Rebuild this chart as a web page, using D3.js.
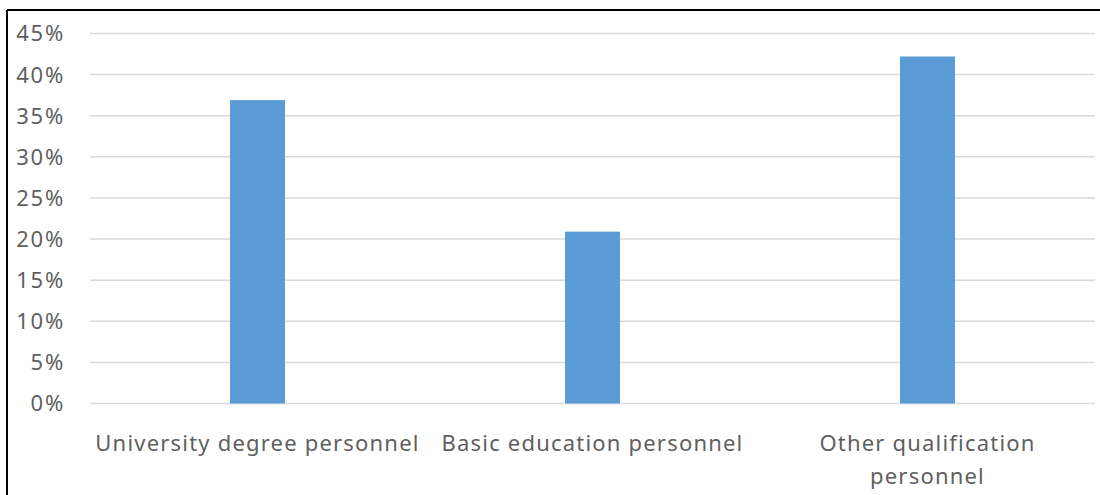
<!DOCTYPE html>
<meta charset="utf-8">
<style>
body { margin: 0; background: #fff; }
svg { display: block; }
.tick-label, .cat-label {
  font-family: "Noto Sans", "Open Sans", sans-serif;
  fill: #5f5f5f;
}
</style>
<body>
<svg width="1100" height="495"></svg>
<script src="https://d3js.org/d3.v7.min.js"></script>
<script>

// values (share of personnel, %)
var categories = ["University degree personnel", "Basic education personnel", "Other qualification personnel"];
var catLines = [["University degree personnel"], ["Basic education personnel"], ["Other qualification", "personnel"]];
var values = [36.9, 20.9, 42.2];
var yTicks = [0, 5, 10, 15, 20, 25, 30, 35, 40, 45];

var svg = d3.select("svg"),
    width = +svg.attr("width"),
    height = +svg.attr("height");

var x = d3.scaleBand()
    .domain(categories)
    .range([90, 1095])
    .paddingInner(0.836)
    .paddingOuter(0.418);

var y = d3.scaleLinear()
    .domain([0, 45])
    .range([403.5, 33.5]);

// frame (only top and left edges show in the picture)
svg.append("line")
    .attr("x1", 7).attr("x2", width).attr("y1", 10).attr("y2", 10)
    .attr("stroke", "#000").attr("stroke-width", 2);
svg.append("line")
    .attr("x1", 7).attr("x2", 7).attr("y1", 10).attr("y2", height)
    .attr("stroke", "#000").attr("stroke-width", 2);

// gridlines
svg.append("g")
  .selectAll("line")
  .data(yTicks)
  .enter().append("line")
    .attr("x1", 90).attr("x2", 1095)
    .attr("y1", function(d) { return y(d); })
    .attr("y2", function(d) { return y(d); })
    .attr("stroke", "#d9d9d9")
    .attr("stroke-width", 1.5);

// y tick labels
svg.append("g")
  .selectAll("text")
  .data(yTicks)
  .enter().append("text")
    .attr("class", "tick-label")
    .attr("x", 65)
    .attr("y", function(d) { return y(d); })
    .attr("dy", "0.36em")
    .attr("text-anchor", "end")
    .style("font-size", "22px")
    .style("letter-spacing", "1.8px")
    .text(function(d) { return d + "%"; });

// bars
svg.append("g")
  .selectAll("rect")
  .data(values)
  .enter().append("rect")
    .attr("x", function(d, i) { return x(categories[i]); })
    .attr("width", x.bandwidth())
    .attr("y", function(d) { return y(d); })
    .attr("height", function(d) { return y(0) - y(d); })
    .attr("fill", "#5b9bd5");

// category labels
var cat = svg.append("g")
  .selectAll("text")
  .data(catLines)
  .enter().append("text")
    .attr("class", "cat-label")
    .attr("text-anchor", "middle")
    .style("font-size", "22px")
    .style("letter-spacing", "1.2px")
    .attr("x", function(d, i) { return x(categories[i]) + x.bandwidth() / 2; })
    .attr("y", 451);

cat.selectAll("tspan")
  .data(function(d) { return d; })
  .enter().append("tspan")
    .attr("x", function() { return d3.select(this.parentNode).attr("x"); })
    .attr("dy", function(d, i) { return i === 0 ? 0 : 33; })
    .text(function(d) { return d; });

</script>
</body>
